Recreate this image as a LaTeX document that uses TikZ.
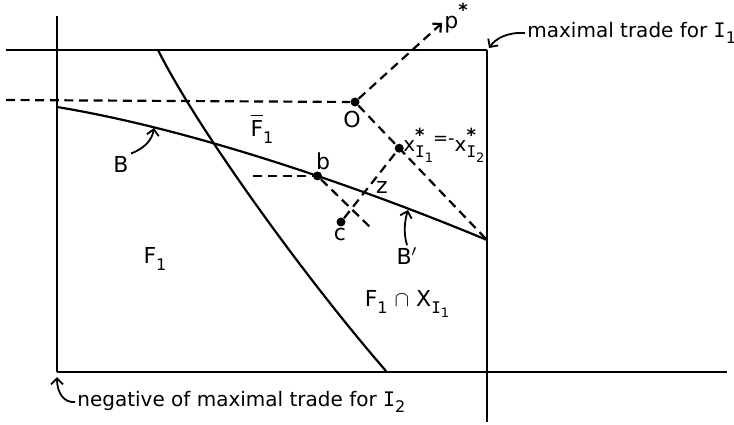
\documentclass[tikz,border=0pt]{standalone}
\usepackage{amsmath}
\usepackage{fontspec}
\setmainfont{DejaVu Sans}
\newfontfamily\serifI{DejaVu Sans Mono}
\usetikzlibrary{arrows.meta, calc}
\newcommand{\II}{{\serifI I}}
\newcommand{\dn}[1]{\raisebox{-0.55ex}{\fontsize{8}{8}\selectfont #1}}
\newcommand{\ddn}[1]{\raisebox{-0.5ex}{\fontsize{6.5}{7}\selectfont #1}}
\newcommand{\st}{\raisebox{0.95ex}{\fontsize{9}{9}\selectfont\bfseries *}}
\newcommand{\Fbar}{\rlap{\rule[1.75ex]{0.55em}{0.6pt}}F}
\tikzset{
    dot/.style={circle, fill=black, inner sep=0pt, minimum size=4.5pt},
    dash line/.style={line width=1.1pt, dash pattern=on 4.5pt off 2.8pt},
    solid line/.style={line width=1.1pt},
    lbl/.style={inner sep=1pt, font=\fontsize{11}{13}\selectfont},
    txt/.style={inner sep=1pt, font=\fontsize{10}{12}\selectfont},
    pointer/.style={line width=0.9pt, -{Straight Barb[length=3pt,width=6pt]}}
}

\begin{document}
\begin{tikzpicture}[x=0.5pt, y=-0.5pt]
    \useasboundingbox (0,0) rectangle (734,424);

    % Box of feasible trades
    \coordinate (TL) at (6,50);
    \coordinate (TR) at (487,50);
    \coordinate (LT) at (57,16);
    \coordinate (LB) at (57,372);
    \coordinate (BR) at (727,372);
    \coordinate (RB) at (487,422);
    \draw[solid line] (TL) -- (TR);
    \draw[solid line] (TR) -- (RB);
    \draw[solid line] (LT) -- (LB);
    \draw[solid line] (LB) -- (BR);

    % Boundary of F_1
    \draw[solid line] (158,50) .. controls (198,130) and (306,279) .. (386,371);

    % Curve B / B'
    \coordinate (corner) at (487,240);
    \draw[solid line] (57,107) .. controls (197,130) and (367,190) .. (corner)
        coordinate[pos=0.585] (bpt);

    % Points
    \node[dot] (O) at (355,102) {};
    \node[dot] (xs) at ($(O)!0.335!(corner)$) {};
    \node[dot] (b) at (bpt) {};
    \node[dot] (c) at (341,222) {};
    \coordinate (pend) at (442,23);
    \coordinate (Oleft) at (6,100);
    \coordinate (bleft) at ($(b)+(-64,0)$);
    \coordinate (bend) at (372,229);

    % Dashed lines
    \draw[dash line] (Oleft) -- (O);
    \draw[dash line, -{Straight Barb[length=3pt,width=6pt]}] (O) -- (pend);
    \draw[dash line] (O) -- (corner);
    \draw[dash line] (c) -- (xs);
    \draw[dash line] (bleft) -- (b);
    \draw[dash line] (b) -- (bend);

    % Labels
    \node[lbl] (plab) at (456,18) {p\st};
    \node[lbl] (Olab) at (352,119) {O};
    \node[txt, anchor=west] (xlab) at (401,145)
        {x\rlap{\st}\dn{\II\ddn{1}}\raisebox{0.7ex}{\fontsize{9}{9}\selectfont=-}x\rlap{\st}\dn{\II\ddn{2}}};
    \node[lbl] (blab) at (323,161) {b};
    \node[lbl] (clab) at (340,234) {c};
    \node[lbl] (zlab) at (382,187) {z};
    \node[lbl] (Blab) at (121,164) {B};
    \node[lbl] (Bplab) at (407,256) {B$'$};
    \node[lbl] (Fbar) at (262,129) {\Fbar\dn{1}};
    \node[lbl] (F1) at (155,259) {F\dn{1}};
    \node[lbl] (FX) at (407,304) {F\dn{1} $\cap$ X\dn{\II\ddn{1}}};
    \node[txt, anchor=west] (maxlab) at (525,33) {maximal trade for \II\dn{1}};
    \node[txt, anchor=west] (neglab) at (75,402) {negative of maximal trade for \II\dn{2}};

    % Pointers
    \draw[pointer] (Blab.north east) .. controls (145,148) and (152,140) .. (154,128);
    \draw[pointer] (Bplab.north) .. controls (403,232) and (405,220) .. (408,210);
    \draw[pointer] (maxlab.west) .. controls (508,32) and (496,38) .. (489,48);
    \draw[pointer] (neglab.west) .. controls (64,403) and (57,393) .. (57,377);
\end{tikzpicture}
\end{document}
